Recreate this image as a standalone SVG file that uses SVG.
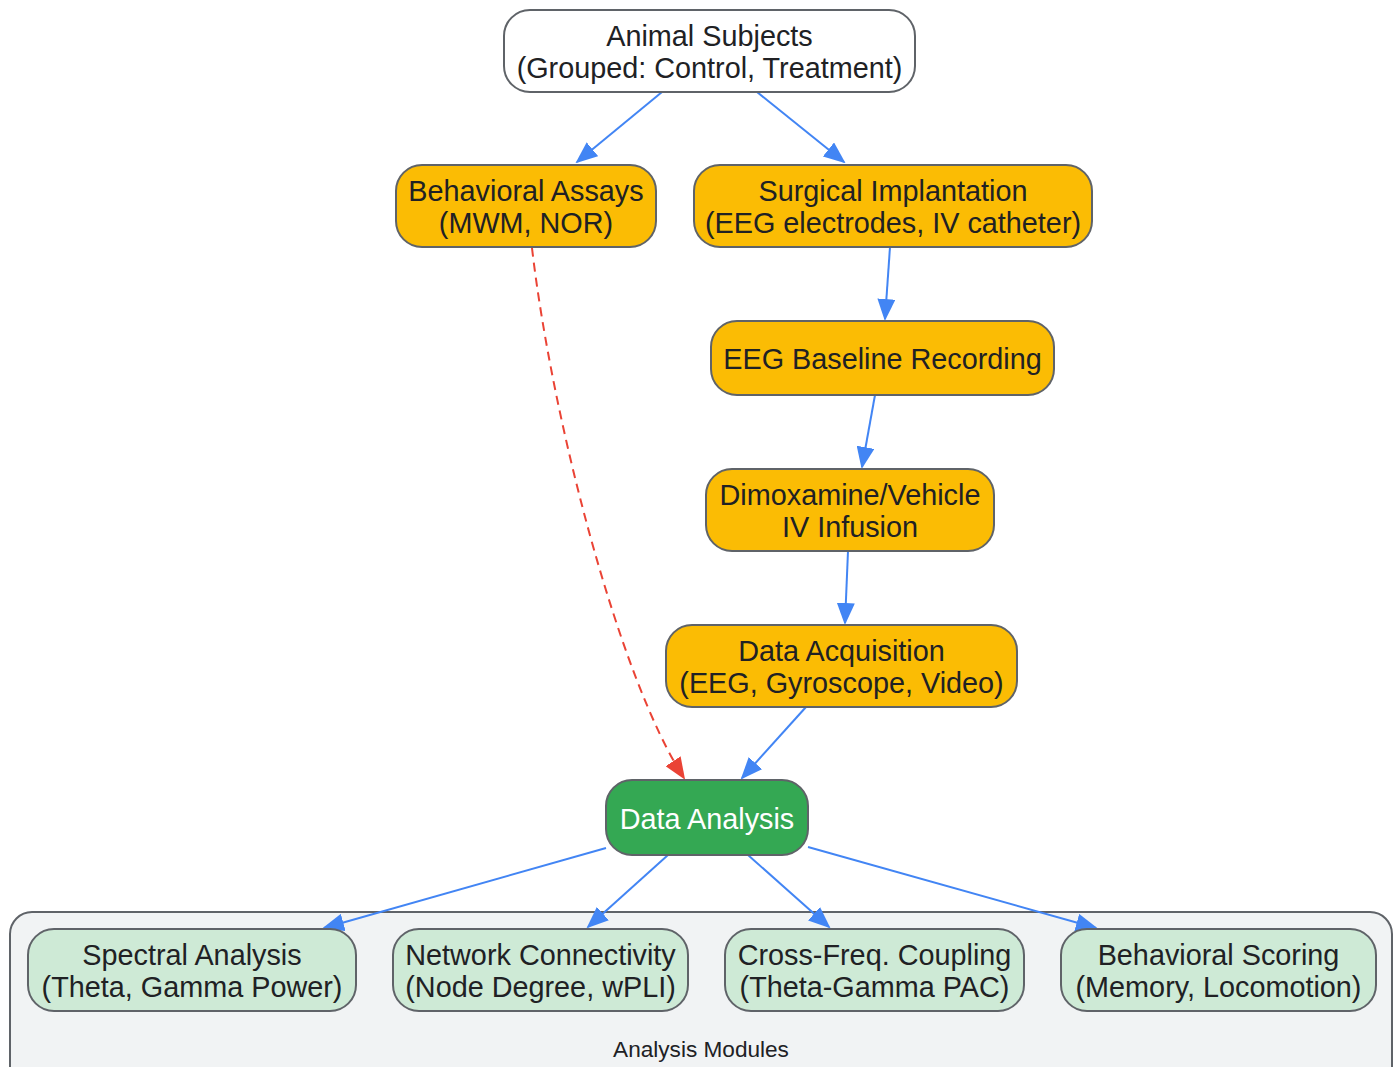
<svg xmlns="http://www.w3.org/2000/svg" width="1399" height="1067" viewBox="0 0 1399 1067">
<style>
text{font-family:"Liberation Sans",Arial,sans-serif;font-size:28.8px;fill:#202124;text-anchor:middle}
.n rect{stroke:#5f6368;stroke-width:2}
.w rect{fill:#ffffff}
.y rect{fill:#fbbc04}
.g rect{fill:#34a853}
.g text{fill:#ffffff}
.m rect{fill:#ceead6}
.e{fill:none;stroke:#4285f4;stroke-width:2}
.d{fill:none;stroke:#ea4335;stroke-width:2;stroke-dasharray:9,6}
.lbl{font-size:22.6px}
</style>
<defs>
<marker id="ab" markerUnits="userSpaceOnUse" markerWidth="22" markerHeight="18" refX="20" refY="9" orient="auto"><path d="M0,0 L22,9 L0,18 z" fill="#4285f4"/></marker>
<marker id="ar" markerUnits="userSpaceOnUse" markerWidth="22" markerHeight="18" refX="20" refY="9" orient="auto"><path d="M0,0 L22,9 L0,18 z" fill="#ea4335"/></marker>
</defs>
<g id="cluster-analysis-modules">
<rect x="10" y="912" width="1382" height="180" rx="22" fill="#f1f3f4" stroke="#5f6368" stroke-width="2"/>
<text class="lbl" x="701" y="1057">Analysis Modules</text>
</g>
<g id="edges">
<path class="e" d="M662,92 L577,162" marker-end="url(#ab)"/>
<path class="e" d="M757,92 L844,162" marker-end="url(#ab)"/>
<path class="d" d="M532,248 C552,420 620,680 684,778" marker-end="url(#ar)"/>
<path class="e" d="M890,247 L885,319" marker-end="url(#ab)"/>
<path class="e" d="M875,395 L862,467" marker-end="url(#ab)"/>
<path class="e" d="M848,551 L845,623" marker-end="url(#ab)"/>
<path class="e" d="M806,707 L742,778" marker-end="url(#ab)"/>
<path class="e" d="M606,848 L324,928" marker-end="url(#ab)"/>
<path class="e" d="M668,855 L588,927" marker-end="url(#ab)"/>
<path class="e" d="M748,855 L829,927" marker-end="url(#ab)"/>
<path class="e" d="M808,847 L1096,928" marker-end="url(#ab)"/>
</g>
<g id="animal-subjects" class="n w">
<rect x="504" y="10" width="411" height="82" rx="26"/>
<text x="709.5" y="46">Animal Subjects</text>
<text x="709.5" y="78">(Grouped: Control, Treatment)</text>
</g>
<g id="behavioral-assays" class="n y">
<rect x="396" y="165" width="260" height="82" rx="26"/>
<text x="526" y="201">Behavioral Assays</text>
<text x="526" y="233">(MWM, NOR)</text>
</g>
<g id="surgical-implantation" class="n y">
<rect x="694" y="165" width="398" height="82" rx="26"/>
<text x="893" y="201">Surgical Implantation</text>
<text x="893" y="233">(EEG electrodes, IV catheter)</text>
</g>
<g id="eeg-baseline" class="n y">
<rect x="711" y="321" width="343" height="74" rx="26"/>
<text x="882.5" y="369">EEG Baseline Recording</text>
</g>
<g id="dimoxamine-infusion" class="n y">
<rect x="706" y="469" width="288" height="82" rx="26"/>
<text x="850" y="505">Dimoxamine/Vehicle</text>
<text x="850" y="537">IV Infusion</text>
</g>
<g id="data-acquisition" class="n y">
<rect x="666" y="625" width="351" height="82" rx="26"/>
<text x="841.5" y="661">Data Acquisition</text>
<text x="841.5" y="693">(EEG, Gyroscope, Video)</text>
</g>
<g id="data-analysis" class="n g">
<rect x="606" y="780" width="202" height="75" rx="26"/>
<text x="707" y="829">Data Analysis</text>
</g>
<g id="spectral-analysis" class="n m">
<rect x="28" y="929" width="328" height="82" rx="26"/>
<text x="192" y="965">Spectral Analysis</text>
<text x="192" y="997">(Theta, Gamma Power)</text>
</g>
<g id="network-connectivity" class="n m">
<rect x="393" y="929" width="295" height="82" rx="26"/>
<text x="540.5" y="965">Network Connectivity</text>
<text x="540.5" y="997">(Node Degree, wPLI)</text>
</g>
<g id="cross-freq-coupling" class="n m">
<rect x="725" y="929" width="299" height="82" rx="26"/>
<text x="874.5" y="965">Cross-Freq. Coupling</text>
<text x="874.5" y="997">(Theta-Gamma PAC)</text>
</g>
<g id="behavioral-scoring" class="n m">
<rect x="1061" y="929" width="315" height="82" rx="26"/>
<text x="1218.5" y="965">Behavioral Scoring</text>
<text x="1218.5" y="997">(Memory, Locomotion)</text>
</g>
</svg>
